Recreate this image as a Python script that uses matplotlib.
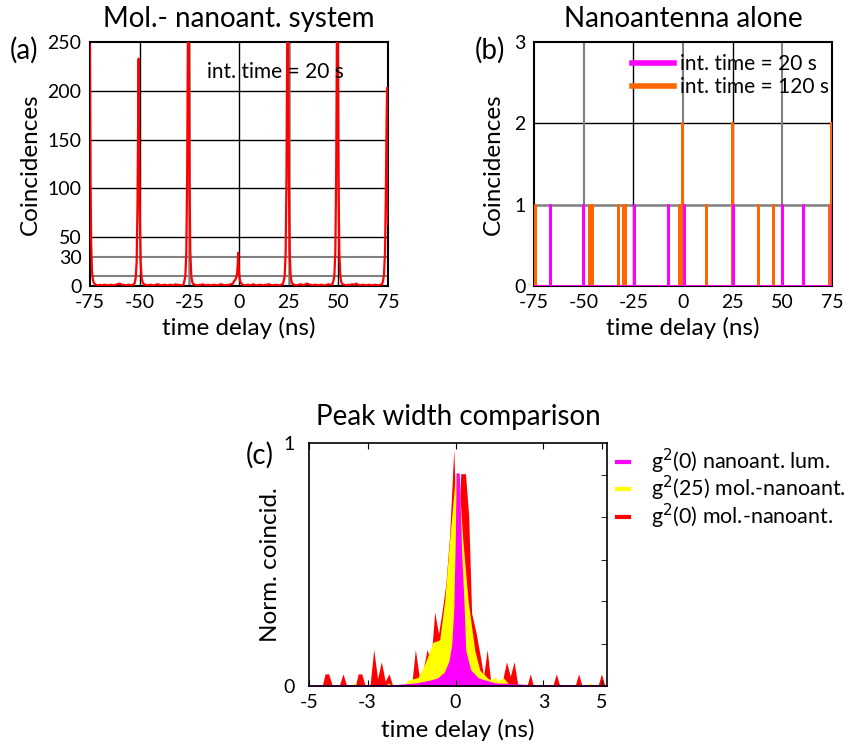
import numpy as np
import matplotlib.pyplot as plt
from matplotlib.lines import Line2D

plt.rcParams['font.family'] = ['Lato', 'DejaVu Sans']
plt.rcParams['axes.unicode_minus'] = False

# (a) molecule - nanoantenna, int. time 20 s
t_a = ([-75.0, -74.7, -74.4, -74.0, -73.5, -73.0]
       + list(np.arange(-72, -52, 1.0)) + [-52.5]
       + [-52.0, -51.5, -51.1, -50.8, -50.5, -50.2, -49.9, -49.5, -49.0, -48.5, -48.0]
       + list(np.arange(-47, -27, 1.0))
       + [-27.5, -27.0, -26.5, -26.1, -25.8, -25.5, -25.2, -24.9, -24.5, -24.0, -23.5, -23.0]
       + list(np.arange(-22, -2, 1.0))
       + [-2.5, -2.0, -1.5, -1.0, -0.7, -0.4, -0.1, 0.2, 0.6, 1.0, 1.5]
       + list(np.arange(2, 23, 1.0))
       + [22.5, 23.0, 23.5, 23.9, 24.2, 24.5, 24.8, 25.1, 25.5, 26.0, 26.5, 27.0]
       + list(np.arange(28, 48, 1.0))
       + [47.5, 48.0, 48.5, 48.9, 49.2, 49.5, 49.8, 50.1, 50.5, 51.0, 51.5, 52.0]
       + list(np.arange(53, 73, 1.0))
       + [72.5, 73.0, 73.5, 73.9, 74.3, 74.6, 75.0])
n_a = ([247, 110, 45, 15, 6, 3]
       + [1.2, 0.6, 1.2, 0.6, 1.2, 1.2, 0.6, 1.2, 1.2, 0.6, 1.2, 1.8, 2.5, 1.2, 1.2, 0.6, 1.2, 1.2, 0.6, 1.8] + [3]
       + [8, 25, 80, 150, 233, 140, 70, 25, 8, 4, 2]
       + [1.2, 0.6, 1.2, 1.2, 0.6, 1.2, 1.8, 1.2, 0.6, 1.2, 1.2, 0.6, 1.2, 1.2, 0.6, 1.8, 1.2, 1.2, 0.6, 1.2]
       + [5, 10, 35, 110, 230, 330, 230, 110, 35, 10, 4, 2]
       + [1.2, 0.6, 1.2, 1.2, 1.8, 0.6, 1.2, 1.2, 0.6, 1.2, 1.2, 0.6, 1.2, 1.8, 1.2, 0.6, 1.2, 1.2, 1.8, 2.5]
       + [5, 6, 8, 12, 20, 34, 18, 9, 5, 3, 2]
       + [1.2, 0.6, 1.2, 1.2, 0.6, 1.8, 1.2, 0.6, 1.2, 1.2, 0.6, 1.2, 1.2, 1.8, 1.2, 0.6, 1.2, 1.2, 0.6, 1.2, 1.8]
       + [5, 10, 35, 110, 230, 330, 230, 110, 35, 10, 4, 2]
       + [1.2, 0.6, 1.2, 1.8, 1.2, 1.2, 2.5, 1.8, 1.2, 0.6, 1.2, 1.2, 0.6, 1.2, 1.2, 0.6, 1.2, 1.8, 1.2, 1.8]
       + [5, 10, 35, 110, 230, 330, 230, 110, 35, 10, 4, 2]
       + [1.2, 0.6, 1.2, 1.2, 1.8, 1.2, 2.5, 1.2, 0.6, 1.2, 1.2, 0.6, 1.2, 1.2, 0.6, 1.2, 1.2, 0.6, 1.2, 1.8]
       + [5, 12, 35, 90, 170, 203, 63])

# (b) nanoantenna alone: delays (ns) of single coincidence events
ev_20_t = [-67.0, -50.5, -24.5, -7.7, 0.3, 25.0, 49.7, 60.2, 74.85]
ev_20_n = [1, 1, 1, 1, 1, 1, 1, 1, 1]
ev_120_t = [-74.6, -47.2, -46.0, -32.6, -30.4, -29.1, -1.9, -0.4, 11.6, 24.6, 37.7, 45.1, 73.6, 74.6]
ev_120_n = [1, 1, 1, 1, 1, 1, 1, 2, 1, 2, 1, 1, 1, 2]

# (c) normalised peaks
red_t = [-5.0, -4.55, -4.45, -4.33, -4.2, -3.97, -3.84, -3.71, -3.42, -3.32, -3.2, -3.08,
         -2.92, -2.79, -2.66, -2.53, -2.40, -2.27, -2.14, -1.5, -1.37, -1.24, -1.1, -0.97,
         -0.84, -0.71, -0.58, -0.46, -0.33, -0.2, -0.06, 0.06, 0.18, 0.34, 0.45, 0.55, 0.7,
         0.85, 0.96, 1.08, 1.2, 1.35, 1.6, 1.74, 1.87, 2.0, 2.13, 2.44, 2.55, 2.66, 3.32,
         3.44, 3.56, 4.08, 4.2, 4.32, 4.86, 4.98, 5.1, 5.17]
red_v = [0, 0, 0.05, 0.05, 0, 0, 0.05, 0, 0, 0.05, 0.05, 0,
         0, 0.15, 0.03, 0.10, 0.02, 0.05, 0, 0, 0.15, 0.04, 0.07, 0.15,
         0.10, 0.305, 0.215, 0.305, 0.42, 0.62, 0.974, 0.55, 0.874, 0.874, 0.7, 0.3, 0.22,
         0.12, 0.04, 0.15, 0.02, 0.01, 0.02, 0.10, 0.04, 0.10, 0, 0, 0.05, 0, 0,
         0.05, 0, 0, 0.05, 0, 0, 0.05, 0, 0]
yel_t = [-5.0, -4.6, -4.3, -3.6, -3.45, -3.3, -2.4, -2.3, -2.1, -1.75, -1.62, -1.45, -1.28,
         -1.05, -0.77, -0.54, -0.37, -0.2, 0.0, 0.1, 0.25, 0.43, 0.66, 0.83, 1.12, 1.25,
         1.34, 1.45, 1.63, 1.8, 2.2, 4.4, 4.6, 4.8, 5.17]
yel_v = [0, 0.005, 0.0, 0.0, 0.012, 0.0, 0.0, 0.012, 0.0, 0.005, 0.025, 0.03, 0.035,
         0.09, 0.18, 0.19, 0.35, 0.6, 0.874, 0.874, 0.6, 0.35, 0.145, 0.065, 0.03, 0.025,
         0.04, 0.02, 0.035, 0.01, 0.0, 0.0, 0.012, 0.0, 0.0]
mag_t = [-5.0, -2.0, -1.33, -0.9, -0.6, -0.36, -0.2, -0.1, -0.03, 0.02, 0.05, 0.1, 0.18,
         0.26, 0.32, 0.49, 0.77, 1.34, 2.5, 5.17]
mag_v = [0.0, 0.003, 0.01, 0.02, 0.03, 0.055, 0.1, 0.17, 0.32, 0.6, 0.874, 0.874, 0.55,
         0.35, 0.147, 0.065, 0.03, 0.01, 0.003, 0.0]
labels_c = ['g$^2$(0) nanoant. lum.', 'g$^2$(25) mol.-nanoant.', 'g$^2$(0) mol.-nanoant.']

ORANGE = '#ff6600'
MAGENTA = '#ff00ff'
GRAY = '#808080'
FS_TICK = 14
FS_LAB = 17.5
FS_TITLE = 20

fig = plt.figure(figsize=(8.44, 7.46), dpi=100)
ax_a = fig.add_axes([0.1066, 0.6166, 0.3531, 0.327])
ax_b = fig.add_axes([0.6327, 0.6166, 0.3531, 0.327])
ax_c = fig.add_axes([0.3661, 0.0804, 0.3531, 0.3257])


def spikes(ts, ns):
    # each event is a vertical line from 0 to its count
    x, y = [-75], [0]
    for t, n in zip(ts, ns):
        x += [t, t, t]
        y += [0, n, 0]
    return x + [75], y + [0]


# ---- (a)
for y in [50, 100, 150, 200]:
    ax_a.axhline(y, color='black', lw=1, zorder=1)
for y in [10, 30]:
    ax_a.axhline(y, color=GRAY, lw=1.5, zorder=1)
for x in [-50, 0, 50]:
    ax_a.axvline(x, color='black', lw=1, zorder=1)
for x in [-25, 25]:
    ax_a.axvline(x, color=GRAY, lw=1.8, zorder=1)
ax_a.plot(t_a, n_a, color='red', lw=1.6, zorder=3)
ax_a.set_xlim(-75, 75)
ax_a.set_ylim(0, 250)
ax_a.set_xticks([-75, -50, -25, 0, 25, 50, 75])
ax_a.set_yticks([0, 30, 50, 100, 150, 200, 250])
ax_a.set_title('Mol.- nanoant. system', fontsize=FS_TITLE, pad=11)
ax_a.set_xlabel('time delay (ns)', fontsize=FS_LAB)
ax_a.set_ylabel('Coincidences', fontsize=FS_LAB)
ax_a.xaxis.set_label_coords(0.5, -0.125)
ax_a.yaxis.set_label_coords(-0.165, 0.5)
ax_a.text(0.393, 0.877, 'int. time = 20 s', transform=ax_a.transAxes,
          fontsize=15, va='center', ha='left')

# ---- (b)
ax_b.axhline(1, color=GRAY, lw=1.8, zorder=1)
ax_b.axhline(2, color='black', lw=1, zorder=1)
for x in [-50, 0, 50]:
    ax_b.axvline(x, color=GRAY, lw=1.5, zorder=1)
for x in [-25, 25]:
    ax_b.axvline(x, color='black', lw=1, zorder=1)
xo, yo = spikes(ev_120_t, ev_120_n)
xm, ym = spikes(ev_20_t, ev_20_n)
ax_b.plot(xo, yo, color=ORANGE, lw=2, zorder=3, label='int. time = 120 s')
ax_b.plot(xm, ym, color=MAGENTA, lw=2, zorder=4, label='int. time = 20 s')
ax_b.set_xlim(-75, 75)
ax_b.set_ylim(0, 3)
ax_b.set_xticks([-75, -50, -25, 0, 25, 50, 75])
ax_b.set_yticks([0, 1, 2, 3])
ax_b.set_title('Nanoantenna alone', fontsize=FS_TITLE, pad=11)
ax_b.set_xlabel('time delay (ns)', fontsize=FS_LAB)
ax_b.set_ylabel('Coincidences', fontsize=FS_LAB)
ax_b.xaxis.set_label_coords(0.5, -0.125)
ax_b.yaxis.set_label_coords(-0.1, 0.5)
h, l = ax_b.get_legend_handles_labels()
leg_b = ax_b.legend(h[::-1], l[::-1], loc='upper left', bbox_to_anchor=(0.33, 0.95),
                    frameon=False, fontsize=15, handlelength=2.0, handletextpad=0.3,
                    labelspacing=0.15, borderpad=0, borderaxespad=0)
for ln in leg_b.get_lines():
    ln.set_linewidth(4)

for ax in (ax_a, ax_b):
    ax.tick_params(length=0, labelsize=FS_TICK, pad=6)
    for s in ax.spines.values():
        s.set_linewidth(1.5)

# ---- (c)
ax_c.fill_between(red_t, red_v, color='red', lw=0)
ax_c.fill_between(yel_t, yel_v, color='yellow', lw=0)
ax_c.fill_between(mag_t, mag_v, color=MAGENTA, edgecolor=MAGENTA, lw=1.2)
ax_c.set_xlim(-5, 5.17)
ax_c.set_ylim(0, 1)
ax_c.set_xticks([-5, -3, 0, 3, 5])
ax_c.set_yticks([0, 1])
ax_c.set_yticks([0.171, 0.348, 0.52, 0.695, 0.87], minor=True)
ax_c.tick_params(which='major', axis='x', direction='in', top=True, length=4,
                 labelsize=FS_TICK, pad=6)
ax_c.tick_params(which='major', axis='y', length=0, labelsize=FS_TICK, pad=10)
ax_c.tick_params(which='minor', axis='y', direction='in', left=False, right=True, length=4)
ax_c.set_title('Peak width comparison', fontsize=FS_TITLE, pad=13)
ax_c.set_xlabel('time delay (ns)', fontsize=FS_LAB)
ax_c.set_ylabel('Norm. coincid.', fontsize=FS_LAB)
ax_c.xaxis.set_label_coords(0.5, -0.135)
ax_c.yaxis.set_label_coords(-0.095, 0.5)
for s in ax_c.spines.values():
    s.set_linewidth(1.2)
handles_c = [Line2D([], [], color=c, lw=3) for c in (MAGENTA, 'yellow', 'red')]
ax_c.legend(handles_c, labels_c, loc='upper left', bbox_to_anchor=(1.035, 0.985),
            frameon=False, fontsize=15.5, handlelength=0.55, handletextpad=1.0,
            labelspacing=-0.08, borderpad=0, borderaxespad=0)

fig.text(10 / 844, 1 - 50 / 746, '(a)', fontsize=20, va='center', ha='left')
fig.text(475 / 844, 1 - 50 / 746, '(b)', fontsize=20, va='center', ha='left')
fig.text(246 / 844, 1 - 455 / 746, '(c)', fontsize=20, va='center', ha='left')

fig.savefig('out.png', dpi=100)
